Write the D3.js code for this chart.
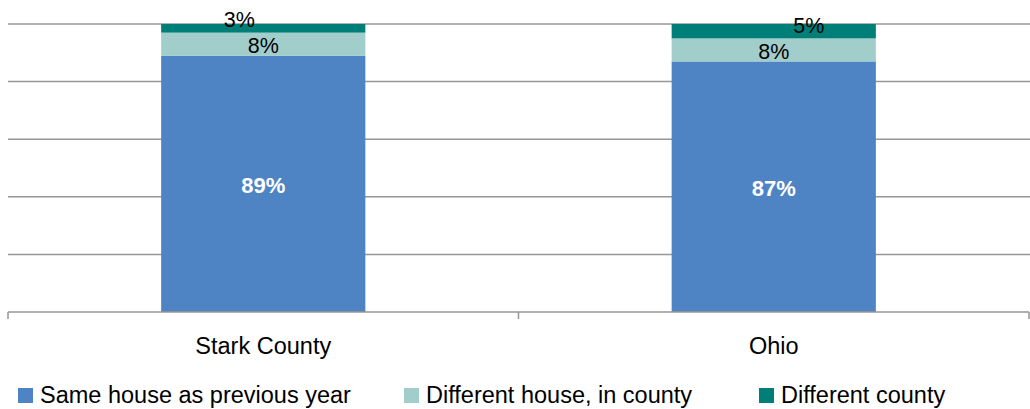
<!DOCTYPE html>
<html><head><meta charset="utf-8">
<script src="https://cdn.jsdelivr.net/npm/d3@7"></script>
<style>body{margin:0;background:#fff}svg{display:block}text{font-family:"Liberation Sans",Arial,sans-serif}</style>
</head><body><svg id="c" width="1030" height="409"></svg>
<script>
const categories = ["Stark County", "Ohio"];
const seriesNames = ["Same house as previous year", "Different house, in county", "Different county"];
const sameHouse = [89, 87];
const diffHouseInCounty = [8, 8];
const diffCounty = [3, 5];
const yTicks = [0, 20, 40, 60, 80, 100];
const colors = ["#4F84C4", "#A1CDCA", "#007F78"];

const svg = d3.select("#c");
const x = d3.scaleBand().domain(categories).range([8, 1029]).paddingInner(0).paddingOuter(0);
const y = d3.scaleLinear().domain([0, 100]).range([312, 24]);
const barW = x.bandwidth() * 0.4;

// gridlines
svg.append("g").selectAll("line").data(yTicks.filter(d => d > 0)).join("line")
  .attr("x1", 8).attr("x2", 1030).attr("y1", d => y(d)).attr("y2", d => y(d))
  .attr("stroke", "#969696").attr("stroke-width", 1.5);

const rows = categories.map((c, i) => ({cat: c, s0: sameHouse[i], s1: diffHouseInCounty[i], s2: diffCounty[i]}));
const stack = d3.stack().keys(["s0", "s1", "s2"])(rows);

const g = svg.append("g");
stack.forEach((layer, li) => {
  g.selectAll(null).data(layer).join("rect")
    .attr("x", d => x(d.data.cat) + (x.bandwidth() - barW) / 2)
    .attr("width", barW)
    .attr("y", d => y(d[1]))
    .attr("height", d => y(d[0]) - y(d[1]))
    .attr("fill", colors[li]);
});

// x axis
const ax = svg.append("g").attr("transform", "translate(0,312)");
ax.append("line").attr("x1", 8).attr("x2", 1029).attr("stroke", "#969696").attr("stroke-width", 1.5);
const bounds = [8, 518.5, 1029];
ax.selectAll(".tk").data(bounds).join("line").attr("x1", d => d).attr("x2", d => d)
  .attr("y1", 0).attr("y2", 7).attr("stroke", "#969696").attr("stroke-width", 1.5);
ax.selectAll(".lab").data(categories).join("text")
  .attr("x", d => x(d) + x.bandwidth() / 2).attr("y", 42)
  .attr("text-anchor", "middle").attr("font-size", 23.5).attr("fill", "#000").text(d => d);

// labels
const cx = d => x(d.data.cat) + x.bandwidth() / 2;
g.selectAll(null).data(stack[0]).join("text")
  .attr("x", cx).attr("y", d => (y(d[0]) + y(d[1])) / 2 + 9)
  .attr("text-anchor", "middle").attr("font-size", 22).attr("font-weight", "bold").attr("fill", "#fff")
  .text(d => (d[1] - d[0]) + "%");
g.selectAll(null).data(stack[1]).join("text")
  .attr("x", cx).attr("y", d => (y(d[0]) + y(d[1])) / 2 + 9)
  .attr("text-anchor", "middle").attr("font-size", 21.5).attr("fill", "#000")
  .text(d => (d[1] - d[0]) + "%");
const dOff = [-24, 35];
g.selectAll(null).data(stack[2]).join("text")
  .attr("x", (d, i) => cx(d) + dOff[i]).attr("y", (d, i) => i === 0 ? 27 : 33)
  .attr("text-anchor", "middle").attr("font-size", 21.5).attr("fill", "#000")
  .text(d => (d[1] - d[0]) + "%");

// legend
const legX = [18, 404, 759];
const lg = svg.append("g");
seriesNames.forEach((n, i) => {
  lg.append("rect").attr("x", legX[i]).attr("y", 388).attr("width", 15).attr("height", 15).attr("fill", colors[i]);
  lg.append("text").attr("x", legX[i] + 22).attr("y", 403).attr("font-size", 23.5).attr("fill", "#000").text(n);
});
</script></body></html>
